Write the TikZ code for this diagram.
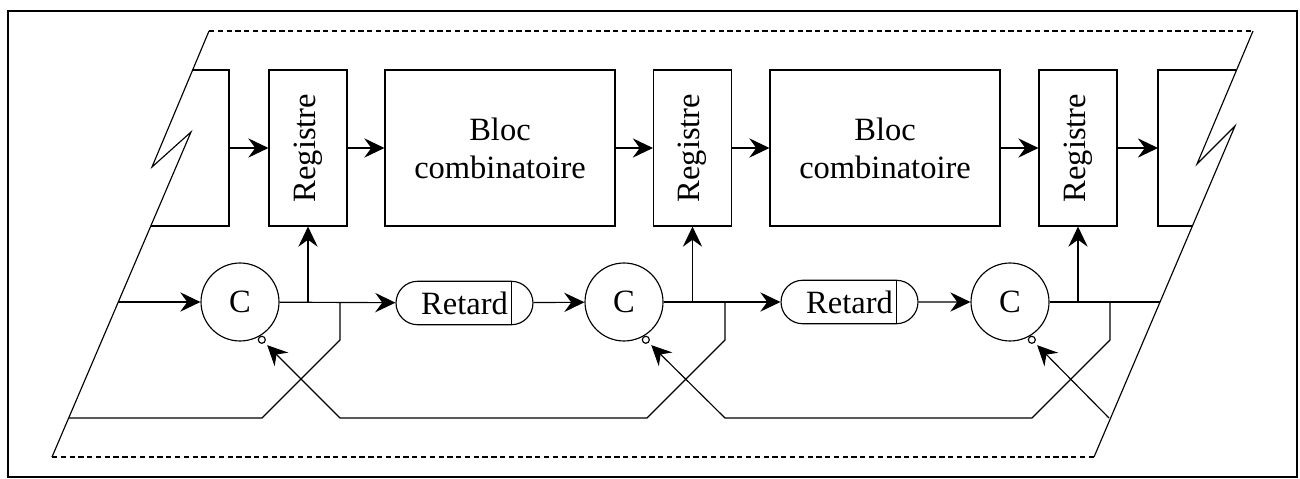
\documentclass[tikz,border=0pt]{standalone}
\usepackage{fontspec}
\setmainfont{Liberation Serif}
\usepackage{graphicx}
\usetikzlibrary{arrows.meta,calc,shapes.misc}
\begin{document}
\begin{tikzpicture}[x=0.02cm,y=-0.02cm,
  line width=0.65pt,
  every node/.style={font=\fontsize{18.5}{21.5}\selectfont},
  box/.style={draw, inner sep=0pt, minimum height=3.12cm},
  regbox/.style={box, minimum width=1.56cm},
  blocbox/.style={box, minimum width=4.6cm, align=center},
  cnode/.style={draw, circle, minimum size=1.56cm, inner sep=0pt},
  inv/.style={draw, circle, minimum size=0.14cm, inner sep=0pt, fill=white},
  delay/.style={draw, rounded rectangle, minimum width=2.74cm, minimum height=0.87cm, inner sep=0pt},
  arr/.style={-{Stealth[length=11.5pt,width=11pt,inset=4pt]}},
  fbarr/.style={arr, shorten >=2pt},
  dashedge/.style={dash pattern=on 3pt off 2pt},
  outerframe/.style={line width=1.2pt}
]
\useasboundingbox (0,0) rectangle (1300,479);
\draw[outerframe] (8,11) rectangle (1297,477);

% dashed parallelogram with break marks
\coordinate (tl) at (209,31);
\coordinate (tr) at (1253,31);
\coordinate (bl) at (52,457);
\coordinate (br) at (1094,457);
\draw[dashedge] (tl) -- (tr);
\draw[dashedge] (bl) -- (br);
\draw (tl) -- (152,167) -- (191,132) -- (bl);
\draw (tr) -- (1197,164) -- (1235,126) -- (br);

% partial boxes at both ends
\draw (192,70) -- (229,70) -- (229,226) -- (151,226);
\draw (1236,70) -- (1158,70) -- (1158,226) -- (1192,226);
\coordinate (lpe) at (229,148);
\coordinate (rpe) at (1158,148);

% top row
\node[regbox] (reg1) at (308,148) {\rotatebox{90}{Registre}};
\node[blocbox] (bloc1) at (500,148) {Bloc\\combinatoire};
\node[regbox] (reg2) at (692.5,148) {\rotatebox{90}{Registre}};
\node[blocbox] (bloc2) at (885,148) {Bloc\\combinatoire};
\node[regbox] (reg3) at (1078,148) {\rotatebox{90}{Registre}};

\draw[arr] (lpe) -- (reg1);
\draw[arr] (reg1) -- (bloc1);
\draw[arr] (bloc1) -- (reg2);
\draw[arr] (reg2) -- (bloc2);
\draw[arr] (bloc2) -- (reg3);
\draw[arr] (reg3) -- (rpe);

% bottom row
\node[cnode] (c1) at (240,302) {C};
\node[delay] (d1) at (464.5,303) {Retard\hspace{6pt}};
\node[cnode] (c2) at (624,302) {C};
\node[delay] (d2) at (849.5,302) {Retard\hspace{6pt}};
\node[cnode] (c3) at (1010,302) {C};
\draw ($(d1.east)+(-22,-21.5)$) -- ($(d1.east)+(-22,21.5)$);
\draw ($(d2.east)+(-22,-21.5)$) -- ($(d2.east)+(-22,21.5)$);

\node[inv, anchor=120] (i1) at (c1.-60) {};
\node[inv, anchor=120] (i2) at (c2.-60) {};
\node[inv, anchor=120] (i3) at (c3.-60) {};

\coordinate (in) at (118,302);
\coordinate (out) at (1160,302);
\draw[arr] (in) -- (c1);
\draw[arr] (c1) -- (d1);
\draw[arr] (d1) -- (c2);
\draw[arr] (c2) -- (d2);
\draw[arr] (d2) -- (c3);
\draw (c3) -- (out);

% clock branches up to registers
\draw[arr] (reg1.south |- c1) -- (reg1.south);
\draw[arr] (reg2.south |- c2) -- (reg2.south);
\draw[arr] (reg3.south |- c3) -- (reg3.south);

% feedback branches
\coordinate (k1) at (340,302);
\coordinate (k2) at (725,302);
\coordinate (k3) at (1110,302);
\coordinate (fl) at (69,418);
\coordinate (fr) at (1109,418);
\draw (k1) -- (340,340) -- (262,418) -- (fl);
\draw[fbarr] (k2) -- (725,340) -- (647,418) -- (340,418) -- (i1);
\draw[fbarr] (k3) -- (1110,340) -- (1032,418) -- (725,418) -- (i2);
\draw[fbarr] (fr) -- (i3);
\end{tikzpicture}
\end{document}
